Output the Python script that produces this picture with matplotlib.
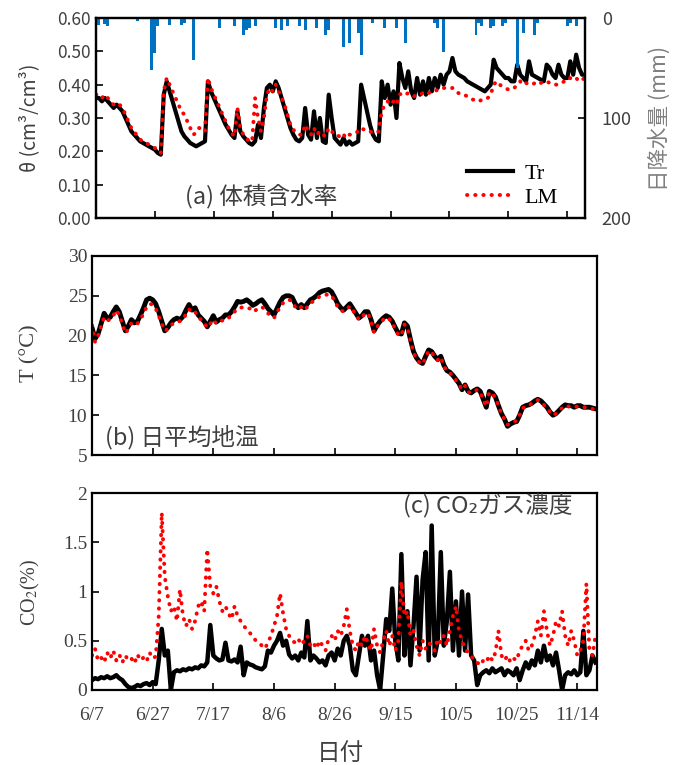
import numpy as np
import matplotlib
matplotlib.use("Agg")
import matplotlib.pyplot as plt

plt.rcParams['font.family'] = ['Liberation Serif', 'DejaVu Serif']
plt.rcParams['mathtext.fontset'] = 'stix'

JP = ['Noto Sans CJK JP', 'DejaVu Sans']
SERIF = ['Liberation Serif', 'DejaVu Serif']
GREY = '#404040'

# x axis: days since 6/7
date_ticks = [0, 20, 40, 60, 80, 100, 120, 140, 160]
date_labels = ["6/7", "6/27", "7/17", "8/6", "8/26", "9/15", "10/5", "10/25", "11/14"]

# (a) volumetric water content, daily
theta_tr = [
    0.36, 0.36, 0.35, 0.36, 0.35, 0.34, 0.33, 0.34, 0.33, 0.32,
    0.30, 0.28, 0.26, 0.25, 0.24, 0.23, 0.225, 0.22, 0.215, 0.21,
    0.205, 0.195, 0.19, 0.37, 0.41, 0.38, 0.35, 0.32, 0.29, 0.26,
    0.245, 0.235, 0.225, 0.22, 0.215, 0.22, 0.225, 0.23, 0.41, 0.38,
    0.36, 0.34, 0.32, 0.30, 0.28, 0.265, 0.25, 0.24, 0.32, 0.26,
    0.245, 0.235, 0.225, 0.22, 0.23, 0.28, 0.24, 0.33, 0.39, 0.40,
    0.38, 0.41, 0.39, 0.36, 0.33, 0.30, 0.27, 0.25, 0.235, 0.23,
    0.24, 0.33, 0.25, 0.235, 0.32, 0.24, 0.30, 0.23, 0.225, 0.37,
    0.30, 0.24, 0.23, 0.22, 0.24, 0.22, 0.23, 0.22, 0.225, 0.23,
    0.40, 0.36, 0.32, 0.28, 0.25, 0.235, 0.23, 0.41, 0.36, 0.40,
    0.34, 0.38, 0.30, 0.465, 0.42, 0.39, 0.44, 0.38, 0.36, 0.42,
    0.37, 0.41, 0.37, 0.42, 0.38, 0.42, 0.39, 0.43, 0.40, 0.43,
    0.44, 0.48, 0.44, 0.43, 0.425, 0.42, 0.41, 0.405, 0.40, 0.395,
    0.39, 0.385, 0.38, 0.39, 0.40, 0.475, 0.45, 0.44, 0.43, 0.42,
    0.42, 0.41, 0.41, 0.46, 0.43, 0.42, 0.41, 0.47, 0.43, 0.425,
    0.42, 0.415, 0.41, 0.46, 0.45, 0.43, 0.42, 0.46, 0.43, 0.42,
    0.42, 0.47, 0.43, 0.49, 0.45, 0.43, 0.43,
]
theta_lm = [
    0.37, 0.37, 0.36, 0.37, 0.36, 0.35, 0.34, 0.345, 0.34, 0.33,
    0.31, 0.29, 0.27, 0.26, 0.245, 0.235, 0.23, 0.225, 0.22, 0.215,
    0.21, 0.20, 0.195, 0.38, 0.42, 0.40, 0.38, 0.36, 0.34, 0.32,
    0.31, 0.29, 0.27, 0.25, 0.255, 0.27, 0.27, 0.26, 0.42, 0.39,
    0.37, 0.35, 0.33, 0.31, 0.29, 0.27, 0.255, 0.245, 0.33, 0.27,
    0.25, 0.24, 0.23, 0.23, 0.36, 0.30, 0.26, 0.30, 0.37, 0.39,
    0.38, 0.40, 0.38, 0.36, 0.34, 0.31, 0.28, 0.265, 0.255, 0.25,
    0.25, 0.28, 0.26, 0.25, 0.27, 0.25, 0.26, 0.25, 0.245, 0.27,
    0.26, 0.25, 0.25, 0.24, 0.25, 0.24, 0.25, 0.25, 0.255, 0.26,
    0.27, 0.265, 0.26, 0.26, 0.255, 0.255, 0.26, 0.32, 0.34, 0.35,
    0.34, 0.35, 0.34, 0.37, 0.375, 0.37, 0.375, 0.37, 0.365, 0.37,
    0.37, 0.375, 0.37, 0.375, 0.38, 0.38, 0.385, 0.385, 0.39, 0.39,
    0.39, 0.39, 0.38, 0.375, 0.37, 0.37, 0.365, 0.36, 0.355, 0.355,
    0.35, 0.355, 0.36, 0.36, 0.37, 0.40, 0.41, 0.40, 0.395, 0.39,
    0.385, 0.39, 0.39, 0.40, 0.41, 0.40, 0.405, 0.40, 0.40, 0.405,
    0.40, 0.405, 0.41, 0.41, 0.405, 0.405, 0.40, 0.40, 0.405, 0.41,
    0.41, 0.42, 0.415, 0.42, 0.41, 0.415, 0.42,
]

# daily rainfall (mm), only rainy days
rain_day = [0, 1, 3, 4, 14, 19, 20, 21, 25, 29,
            30, 33, 42, 47, 50, 51, 52, 54, 61, 63,
            65, 69, 71, 75, 78, 79, 84, 86, 89, 90,
            94, 98, 102, 105, 115, 116, 118, 129, 130, 131,
            134, 135, 138, 139, 143, 145, 149, 150, 160, 161,
            163]
rain_mm = [5, 7, 6, 8, 3, 52, 35, 8, 7, 7,
           5, 42, 10, 8, 17, 12, 10, 8, 10, 12,
           8, 8, 12, 10, 17, 12, 29, 25, 15, 37,
           5, 10, 10, 25, 5, 10, 34, 17, 5, 8,
           10, 8, 8, 5, 50, 15, 17, 5, 8, 5,
           8]

# (b) daily mean soil temperature
temp_tr = [
    21.0, 19.6, 20.2, 21.5, 22.8, 22.2, 22.3, 23.0, 23.6, 23.0,
    21.8, 20.6, 21.2, 22.0, 21.6, 21.8, 22.6, 23.5, 24.5, 24.7,
    24.5, 24.0, 23.0, 21.8, 20.6, 21.0, 21.6, 22.0, 22.2, 22.0,
    22.4, 23.2, 23.9, 23.2, 23.5, 22.6, 22.2, 21.8, 21.1, 21.8,
    22.5, 21.7, 22.0, 22.2, 22.6, 22.6, 23.0, 23.6, 24.3, 24.2,
    24.3, 24.5, 24.2, 23.8, 24.0, 24.3, 24.5, 24.0, 23.4, 23.0,
    22.6, 23.4, 24.2, 24.8, 25.0, 25.0, 24.8, 24.0, 23.5, 23.9,
    23.5, 24.0, 24.5, 24.7, 25.0, 25.4, 25.6, 25.7, 25.8, 25.5,
    24.8, 24.0, 23.5, 23.2, 23.6, 24.0, 23.4, 22.8, 22.2, 22.5,
    23.0, 23.0, 22.0, 20.6, 21.3, 21.8, 22.2, 22.5, 22.3, 21.8,
    21.0, 20.3, 20.2, 21.6, 21.2, 19.5, 18.0, 17.2, 16.7, 16.5,
    17.4, 18.2, 18.0, 17.4, 17.0, 17.4, 16.3, 15.6, 15.4, 15.0,
    14.5, 14.0, 13.2, 13.8, 13.0, 12.8, 13.1, 13.3, 13.0, 12.0,
    11.0, 13.0, 12.8, 12.3, 11.2, 10.2, 9.5, 8.6, 8.9, 9.1,
    9.2, 10.0, 11.0, 11.2, 11.3, 11.5, 11.8, 12.0, 11.8, 11.4,
    11.0, 10.4, 10.0, 10.2, 10.6, 11.0, 11.3, 11.2, 11.2, 11.0,
    11.2, 11.2, 11.0, 11.0, 11.0, 10.9, 10.8,
]
temp_lm = [
    21.3, 19.2, 20.0, 21.2, 22.3, 21.9, 22.0, 22.5, 23.2, 22.6,
    21.5, 20.3, 20.8, 21.6, 21.4, 21.5, 22.0, 22.8, 23.6, 24.0,
    23.9, 23.4, 22.5, 21.5, 20.6, 20.8, 21.3, 21.6, 21.8, 21.8,
    22.0, 22.7, 23.3, 22.9, 23.0, 22.3, 22.0, 21.6, 21.0, 21.5,
    22.0, 21.5, 21.8, 21.9, 22.2, 22.2, 22.6, 23.0, 23.4, 23.5,
    23.6, 23.5, 23.4, 23.0, 23.2, 23.5, 23.6, 23.3, 22.8, 22.5,
    22.2, 22.9, 23.6, 24.1, 24.4, 24.5, 24.3, 23.6, 23.3, 23.6,
    23.2, 23.6, 24.1, 24.3, 24.6, 24.9, 25.0, 25.1, 25.2, 25.0,
    24.4, 23.6, 23.2, 23.0, 23.3, 23.7, 23.2, 22.6, 22.0, 22.3,
    22.8, 22.8, 21.8, 20.4, 21.1, 21.6, 22.0, 22.3, 22.1, 21.6,
    20.8, 20.1, 20.0, 21.4, 21.0, 19.4, 17.9, 17.1, 16.6, 16.4,
    17.3, 18.1, 17.9, 17.3, 16.9, 17.3, 16.2, 15.5, 15.3, 14.9,
    14.4, 13.9, 13.2, 13.7, 12.9, 12.8, 13.0, 13.2, 12.9, 11.9,
    11.1, 12.9, 12.7, 12.2, 11.2, 10.2, 9.5, 8.8, 9.0, 9.2,
    9.3, 10.0, 10.9, 11.1, 11.2, 11.5, 11.7, 11.9, 11.7, 11.3,
    10.9, 10.4, 10.0, 10.2, 10.6, 10.9, 11.2, 11.1, 11.1, 11.0,
    11.1, 11.1, 11.0, 11.0, 10.9, 10.8, 10.7,
]

# (c) CO2 concentration (%)
co2_tr = [
    0.10, 0.12, 0.11, 0.13, 0.12, 0.14, 0.12, 0.13, 0.15, 0.12,
    0.10, 0.06, 0.03, 0.02, 0.03, 0.05, 0.04, 0.06, 0.07, 0.05,
    0.08, 0.06, 0.30, 0.62, 0.35, 0.40, 0.00, 0.18, 0.20, 0.19,
    0.21, 0.20, 0.22, 0.21, 0.23, 0.22, 0.25, 0.24, 0.28, 0.66,
    0.35, 0.32, 0.30, 0.31, 0.48, 0.30, 0.29, 0.31, 0.28, 0.44,
    0.15, 0.28, 0.26, 0.25, 0.23, 0.22, 0.21, 0.24, 0.40, 0.38,
    0.45, 0.50, 0.58, 0.45, 0.50, 0.36, 0.32, 0.35, 0.30, 0.38,
    0.33, 0.70, 0.30, 0.35, 0.32, 0.28, 0.30, 0.25, 0.35, 0.38,
    0.30, 0.42, 0.35, 0.50, 0.55, 0.45, 0.20, 0.15, 0.35, 0.55,
    0.45, 0.55, 0.30, 0.40, 0.15, 0.00, 0.35, 0.72, 0.60, 1.03,
    0.50, 0.30, 1.38, 0.35, 0.80, 0.25, 0.65, 1.15, 0.40, 1.12,
    1.40, 0.30, 1.67, 0.35, 0.50, 1.40, 0.45, 0.70, 1.20, 0.40,
    0.90, 0.35, 1.00, 0.40, 0.97, 0.35, 0.30, 0.05, 0.15, 0.18,
    0.20, 0.17, 0.22, 0.18, 0.20, 0.22, 0.15, 0.20, 0.18, 0.15,
    0.22, 0.10, 0.20, 0.28, 0.22, 0.30, 0.25, 0.40, 0.28, 0.45,
    0.30, 0.35, 0.25, 0.38, 0.20, 0.00, 0.15, 0.18, 0.16, 0.20,
    0.15, 0.18, 0.60, 0.15, 0.20, 0.35, 0.28,
]
co2_lm = [
    0.35, 0.42, 0.30, 0.33, 0.28, 0.38, 0.32, 0.40, 0.30, 0.36,
    0.28, 0.35, 0.30, 0.32, 0.27, 0.36, 0.30, 0.33, 0.29, 0.38,
    0.32, 0.34, 0.75, 1.80, 1.15, 0.95, 0.80, 0.85, 0.70, 1.02,
    0.75, 0.65, 0.72, 0.62, 0.70, 0.85, 0.90, 0.80, 1.43, 1.05,
    0.98, 1.05, 0.90, 0.80, 0.85, 0.78, 0.72, 0.85, 0.75, 0.70,
    0.65, 0.62, 0.58, 0.55, 0.50, 0.48, 0.45, 0.42, 0.48, 0.55,
    0.65, 0.75, 0.98, 0.78, 0.62, 0.55, 0.50, 0.48, 0.52, 0.46,
    0.50, 0.55, 0.45, 0.48, 0.42, 0.50, 0.45, 0.40, 0.52, 0.55,
    0.50, 0.60, 0.55, 0.65, 0.82, 0.60, 0.45, 0.40, 0.50, 0.45,
    0.55, 0.48, 0.40, 0.62, 0.45, 0.38, 0.50, 0.60, 0.45, 0.55,
    0.40, 0.50, 1.10, 0.75, 0.80, 0.55, 0.60, 0.45, 0.35, 0.50,
    0.42, 0.48, 0.45, 0.40, 0.52, 0.48, 0.55, 0.45, 0.60, 0.75,
    0.85, 0.60, 0.50, 0.42, 0.38, 0.35, 0.30, 0.28, 0.25, 0.30,
    0.28, 0.35, 0.30, 0.38, 0.60, 0.35, 0.30, 0.35, 0.28, 0.32,
    0.30, 0.40, 0.45, 0.50, 0.40, 0.45, 0.55, 0.70, 0.55, 0.80,
    0.60, 0.45, 0.55, 0.70, 0.65, 0.80, 0.55, 0.45, 0.60, 0.50,
    0.35, 0.40, 0.50, 1.08, 0.40, 0.35, 0.55,
]

days = np.arange(len(theta_tr))
dot_style = (0, (0.1, 2.0))


def style_axis(ax, labelsize, family):
    ax.tick_params(direction='in', length=5, width=1.2, labelsize=labelsize,
                   labelcolor=GREY)
    for lab in ax.get_yticklabels() + ax.get_xticklabels():
        lab.set_family(family)
    for sp in ax.spines.values():
        sp.set_linewidth(1.6)


fig = plt.figure(figsize=(6.82, 7.65), dpi=100)

# ---- (a) water content + rainfall
ax_a = fig.add_axes([96 / 682, 1 - 218 / 765, 489 / 682, 200 / 765])
l_tr, = ax_a.plot(days, theta_tr, color='black', lw=3.0, solid_joinstyle='round')
l_lm, = ax_a.plot(days, theta_lm, color='red', lw=2.8, linestyle=dot_style,
                  dash_capstyle='round')
ax_a.set_xlim(0, 166)
ax_a.set_ylim(0, 0.6)
ax_a.set_yticks(np.arange(0, 0.61, 0.1))
ax_a.set_yticklabels([f"{v:.2f}" for v in np.arange(0, 0.61, 0.1)])
ax_a.set_xticks(date_ticks)
ax_a.set_xticklabels([])
style_axis(ax_a, 12.5, JP)
ax_a.legend([l_tr, l_lm], ['Tr', 'LM'], loc='lower right', bbox_to_anchor=(0.985, -0.05),
            frameon=False, prop={'family': SERIF, 'size': 16}, handlelength=2.1,
            labelspacing=0.15, handletextpad=0.5)
ax_a.text(0.183, 0.11, "(a) 体積含水率", transform=ax_a.transAxes, fontsize=17,
          family=JP, color=GREY, va='center')

ax_r = ax_a.twinx()
ax_r.bar(rain_day, rain_mm, width=1.0, color='#0070C0', align='center')
ax_r.set_ylim(200, 0)
ax_r.set_yticks([0, 100, 200])
ax_r.tick_params(direction='in', length=5, width=1.2, labelsize=13, labelcolor=GREY, pad=12)
for lab in ax_r.get_yticklabels():
    lab.set_family(JP)
ax_r.set_xlim(0, 166)
for sp in ax_r.spines.values():
    sp.set_linewidth(1.6)

fig.text(30 / 682, 1 - 118 / 765, "θ (cm³/cm³)", rotation=90, ha='center', va='center',
         fontsize=14, family=JP, color=GREY)
fig.text(660 / 682, 1 - 118 / 765, "日降水量 (mm)", rotation=90, ha='center', va='center',
         fontsize=15.5, family=JP, color='#808080')

# ---- (b) soil temperature
ax_b = fig.add_axes([92 / 682, 1 - 455 / 765, 505 / 682, 199 / 765])
ax_b.plot(days, temp_tr, color='black', lw=3.5, solid_joinstyle='round')
ax_b.plot(days, temp_lm, color='red', lw=2.8, linestyle=dot_style, dash_capstyle='round')
ax_b.set_xlim(0, 166.5)
ax_b.set_ylim(5, 30)
ax_b.set_yticks([5, 10, 15, 20, 25, 30])
ax_b.set_xticks(date_ticks)
ax_b.set_xticklabels([])
style_axis(ax_b, 14, SERIF)
ax_b.text(0.025, 0.09, "(b) 日平均地温", transform=ax_b.transAxes, fontsize=17,
          family=JP, color=GREY, va='center')
fig.text(30 / 682, 1 - 353 / 765, "T (°C)", rotation=90, ha='center', va='center',
         fontsize=16, family=SERIF, color=GREY)

# ---- (c) CO2
ax_c = fig.add_axes([92 / 682, 1 - 690 / 765, 505 / 682, 197 / 765])
ax_c.plot(days, co2_tr, color='black', lw=3.2, solid_joinstyle='round')
ax_c.plot(days, co2_lm, color='red', lw=2.8, linestyle=dot_style, dash_capstyle='round')
ax_c.set_xlim(0, 166.5)
ax_c.set_ylim(0, 2)
ax_c.set_yticks([0, 0.5, 1, 1.5, 2])
ax_c.set_yticklabels(["0", "0.5", "1", "1.5", "2"])
ax_c.set_xticks(date_ticks)
ax_c.set_xticklabels(date_labels)
style_axis(ax_c, 14, SERIF)
ax_c.tick_params(axis='x', pad=12)
ax_c.text(0.615, 0.94, "(c) CO₂ガス濃度", transform=ax_c.transAxes, fontsize=17,
          family=JP, color=GREY, va='center')
fig.text(30 / 682, 1 - 592 / 765, r"CO$_2$(%)", rotation=90, ha='center', va='center',
         fontsize=14.5, color=GREY)
fig.text(340 / 682, 1 - 754 / 765, "日付", ha='center', va='center', fontsize=17,
         family=JP, color=GREY)

fig.savefig("out.png", dpi=100)
